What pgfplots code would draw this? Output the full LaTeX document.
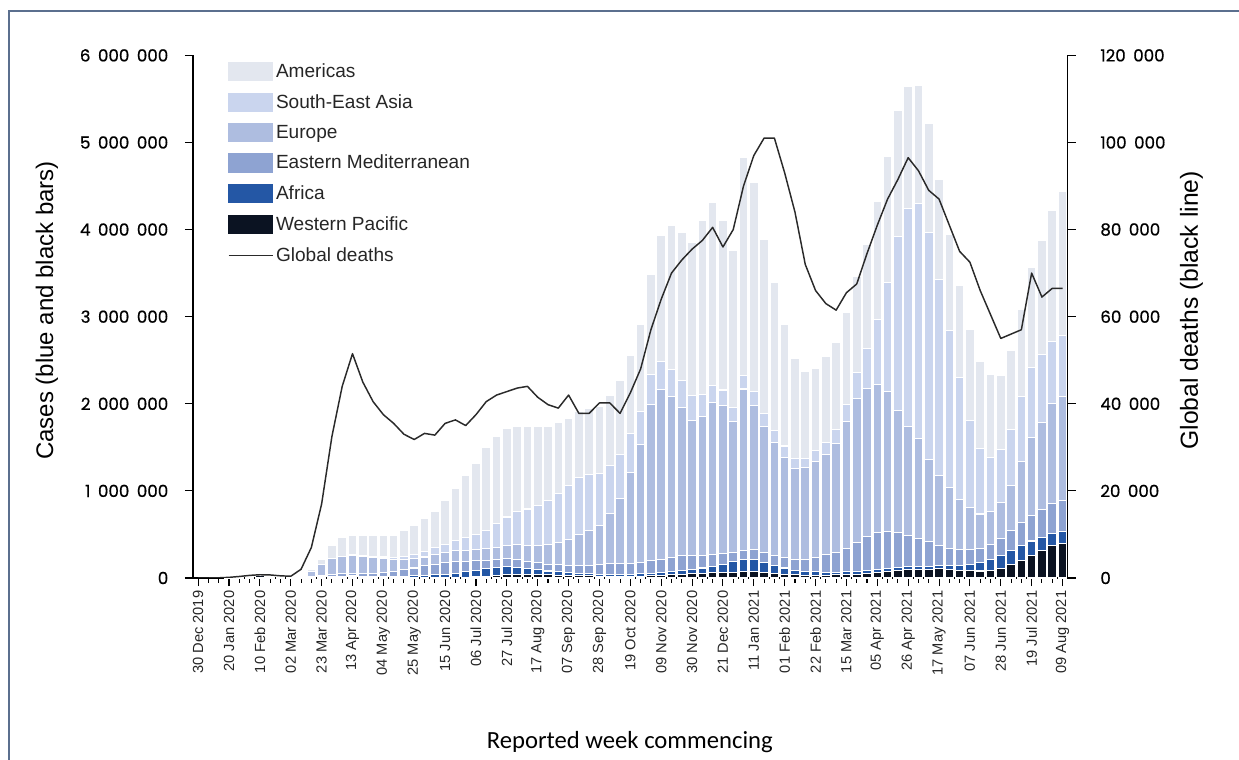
\documentclass[border=0pt]{standalone}
\usepackage{pgfplots}
\pgfplotsset{compat=1.18}
\usepackage{pgfplotstable}
\usepackage{fontspec}
\setmainfont{Liberation Sans}
\newfontfamily\numfont[FakeBold=0.6]{Poppins}
\newfontfamily\labfont{Carlito}

\definecolor{amcol}{HTML}{E3E7EF}
\definecolor{seacol}{HTML}{CAD5EE}
\definecolor{eucol}{HTML}{AEBDE0}
\definecolor{emcol}{HTML}{8EA3D2}
\definecolor{afcol}{HTML}{2457A5}
\definecolor{wpcol}{HTML}{0B1322}
\definecolor{framecol}{HTML}{5B6F8E}
\definecolor{linecol}{HTML}{2A2A2A}

\newcommand\sep{\hspace{0.45em}}

% weekly cases in thousands by WHO region, global deaths in thousands
\pgfplotstableread{
i wp af em eu sea am d
0 0 0 0 0 0 0 0
1 0 0 0 0 0 0 0
2 0 0 0 0 0 0 0.05
3 1 0 0 0 0 0 0.15
4 10 0 0 0 0 0 0.35
5 22 0 0 0 0 0 0.6
6 28 0 0 0.01 0 0 0.75
7 8 0 0.05 0.1 0 0 0.7
8 3 0 0.5 1 0 0.1 0.5
9 3 0.05 3 5 0 0.3 0.4
10 4 0.3 8 20 0.1 2 2
11 6 1 12 60 0.3 15 7
12 10 2 20 120 0.5 60 17
13 14 3 25 180 1.5 150 32.5
14 18 4 25 200 3 220 44
15 20 5 25 210 6 220 51.5
16 16 6 30 200 10 230 45
17 12 8 35 180 12 240 40.5
18 8 10 45 160 18 250 37.5
19 6 13 60 130 25 260 35.5
20 5 16 75 120 35 300 33
21 5 20 90 110 50 330 31.8
22 6 25 110 100 65 380 33.2
23 6 30 120 110 80 420 32.8
24 6 38 130 120 95 500 35.5
25 8 48 130 130 110 600 36.3
26 10 60 120 130 140 720 35
27 13 75 110 130 170 820 37.5
28 18 88 100 130 210 950 40.5
29 25 95 95 140 270 1000 42
30 35 95 90 150 330 1020 42.8
31 40 85 85 170 380 980 43.6
32 42 70 80 180 420 950 44
33 40 55 80 200 460 900 41.5
34 35 45 80 220 510 850 39.8
35 30 40 80 260 560 820 39
36 27 35 85 300 620 760 42
37 25 30 90 350 660 760 37.8
38 25 25 95 400 640 760 37.8
39 22 22 110 450 600 770 40.2
40 20 22 120 580 550 800 40.2
41 20 23 120 750 500 850 37.8
42 20 25 120 1050 440 900 42.5
43 22 26 130 1350 380 1000 48
44 28 28 140 1800 340 1150 57
45 32 30 150 1950 320 1450 64
46 38 35 160 1850 310 1650 70
47 45 40 170 1700 310 1700 73
48 50 48 160 1550 290 1750 75.5
49 55 60 140 1600 250 2000 77.5
50 60 75 130 1750 200 2100 80.5
51 58 100 120 1700 180 1950 76
52 60 125 110 1500 160 1800 80
53 70 140 110 1850 160 2500 90
54 72 145 110 1650 160 2400 97
55 60 120 110 1450 150 2000 101
56 50 95 110 1300 140 1700 101
57 40 75 120 1150 130 1400 93
58 35 55 120 1050 110 1150 84
59 30 45 140 1050 110 1000 72
60 32 38 170 1100 120 950 66
61 33 35 200 1150 140 980 63
62 35 33 230 1250 160 1000 61.5
63 40 33 270 1450 200 1050 65.5
64 45 34 330 1650 300 1100 67.5
65 55 35 390 1700 450 1200 74.5
66 65 35 420 1700 750 1350 81
67 75 34 430 1600 1250 1450 87
68 85 33 400 1400 2000 1450 91.5
69 95 33 360 1250 2500 1400 96.5
70 100 33 320 1150 2700 1350 93.5
71 100 34 280 950 2600 1250 89
72 105 38 230 800 2250 1150 87
73 95 45 200 700 1800 1100 81
74 90 55 180 580 1400 1050 75
75 85 70 170 480 1000 1050 72.5
76 80 95 160 400 750 1000 66
77 90 125 170 380 620 950 60.5
78 110 150 190 420 600 850 55
79 150 170 220 520 650 900 56
80 200 175 260 700 750 1000 57
81 260 165 290 900 800 1150 70
82 320 150 320 1000 780 1300 64.5
83 370 140 340 1150 720 1500 66.5
84 400 135 350 1200 700 1650 66.5
}\weekly

\begin{document}
\begin{tikzpicture}
\path[use as bounding box] (-144.75pt,-136.5pt) rectangle (784.5pt,433.5pt);
\draw[framecol, line width=1.1pt] (-138pt,-136.5pt) -- (-138pt,425.25pt) -- (784.5pt,425.25pt);

\begin{axis}[
    scale only axis, width=656pt, height=392pt,
    xmin=-0.5, xmax=84.5, ymin=0, ymax=6000,
    axis x line*=bottom, axis y line*=left,
    axis line style={black, line width=0.9pt},
    ybar stacked, bar width=0.84,
    xtick={0,3,...,84}, minor xtick={0,1,...,84},
    xticklabels={30 Dec 2019,20 Jan 2020,10 Feb 2020,02 Mar 2020,23 Mar 2020,
        13 Apr 2020,04 May 2020,25 May 2020,15 Jun 2020,06 Jul 2020,27 Jul 2020,
        17 Aug 2020,07 Sep 2020,28 Sep 2020,19 Oct 2020,09 Nov 2020,30 Nov 2020,
        21 Dec 2020,11 Jan 2021,01 Feb 2021,22 Feb 2021,15 Mar 2021,05 Apr 2021,
        26 Apr 2021,17 May 2021,07 Jun 2021,28 Jun 2021,19 Jul 2021,09 Aug 2021},
    xticklabel style={rotate=90, anchor=east, font=\fontsize{11}{12}\selectfont, text=black!85},
    ytick={0,1000,...,6000},
    yticklabels={0,1\sep000\sep000,2\sep000\sep000,3\sep000\sep000,4\sep000\sep000,5\sep000\sep000,6\sep000\sep000},
    yticklabel style={font=\numfont\fontsize{12.5}{14}\selectfont, xshift=-9pt},
    tick align=outside,
    major tick length=6pt, minor tick length=3.5pt,
    tick style={black, line width=0.8pt},
    ylabel={Cases (blue and black bars)},
    ylabel style={at={(axis description cs:-0.167,0.512)}, anchor=center, font=\fontsize{18}{20}\selectfont},
    xlabel={Reported week commencing},
    xlabel style={at={(axis description cs:0.4994,-0.3136)}, anchor=center, font=\labfont\fontsize{18.5}{20}\selectfont},
    legend style={at={(0.035,0.995)}, anchor=north west, draw=none, fill=none,
        font=\fontsize{14.3}{16}\selectfont, text=black!85, row sep=7.2pt, cells={anchor=west}},
    reverse legend,
]
\addlegendimage{legend image code/.code={\draw[linecol, line width=1.1pt] (0pt,0pt) -- (33pt,0pt);}}
\addlegendentry{Global deaths}
\addplot[fill=wpcol, draw=white, line width=0.8pt,
    legend image code/.code={\fill[wpcol] (0pt,-6.75pt) rectangle (33pt,6.75pt);}]
    table[x=i, y=wp]{\weekly};
\addlegendentry{Western Pacific}
\addplot[fill=afcol, draw=white, line width=0.8pt,
    legend image code/.code={\fill[afcol] (0pt,-6.75pt) rectangle (33pt,6.75pt);}]
    table[x=i, y=af]{\weekly};
\addlegendentry{Africa}
\addplot[fill=emcol, draw=white, line width=0.8pt,
    legend image code/.code={\fill[emcol] (0pt,-6.75pt) rectangle (33pt,6.75pt);}]
    table[x=i, y=em]{\weekly};
\addlegendentry{Eastern Mediterranean}
\addplot[fill=eucol, draw=white, line width=0.8pt,
    legend image code/.code={\fill[eucol] (0pt,-6.75pt) rectangle (33pt,6.75pt);}]
    table[x=i, y=eu]{\weekly};
\addlegendentry{Europe}
\addplot[fill=seacol, draw=white, line width=0.8pt,
    legend image code/.code={\fill[seacol] (0pt,-6.75pt) rectangle (33pt,6.75pt);}]
    table[x=i, y=sea]{\weekly};
\addlegendentry{South-East Asia}
\addplot[fill=amcol, draw=white, line width=0.8pt,
    legend image code/.code={\fill[amcol] (0pt,-6.75pt) rectangle (33pt,6.75pt);}]
    table[x=i, y=am]{\weekly};
\addlegendentry{Americas}
\end{axis}

\begin{axis}[
    scale only axis, width=656pt, height=392pt,
    xmin=-0.5, xmax=84.5, ymin=0, ymax=120,
    axis y line*=right, axis x line=none,
    axis line style={black, line width=0.9pt},
    ytick={0,20,...,120},
    yticklabels={0,20\sep000,40\sep000,60\sep000,80\sep000,100\sep000,120\sep000},
    yticklabel style={font=\numfont\fontsize{12.5}{14}\selectfont, xshift=15pt},
    tick align=outside, major tick length=6pt,
    tick style={black, line width=0.8pt},
    ylabel={Global deaths (black line)},
    ylabel style={at={(axis description cs:1.1417,0.512)}, anchor=center, font=\fontsize{18.5}{20}\selectfont},
]
\addplot[linecol, line width=1.1pt, line join=round, mark=none] table[x=i, y=d]{\weekly};
\end{axis}
\end{tikzpicture}
\end{document}
